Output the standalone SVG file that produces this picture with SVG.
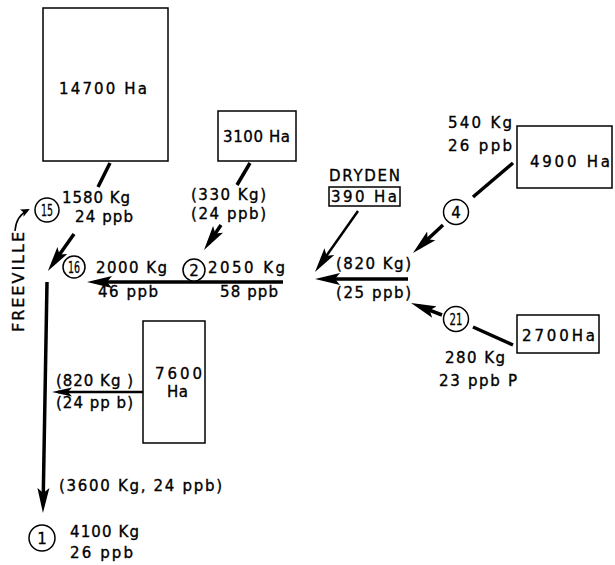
<svg xmlns="http://www.w3.org/2000/svg" width="615" height="565" viewBox="0 0 615 565">
<style>
.t{font-family:"DejaVu Sans","Liberation Sans",Arial,sans-serif;font-size:15px;fill:#000;stroke:#000;stroke-width:0.35}
.c{font-family:"DejaVu Sans","Liberation Sans",Arial,sans-serif;font-size:15px;fill:#000;stroke:#000;stroke-width:0.3;text-anchor:middle}
.box{fill:#fff;stroke:#000;stroke-width:1.5}
.circ{fill:#fff;stroke:#000;stroke-width:1.5}
.thick{fill:none;stroke:#000;stroke-width:3.5}
.thin{fill:none;stroke:#000;stroke-width:2.5}
.hair{fill:none;stroke:#000;stroke-width:1.5}
</style>
<defs>
<marker id="ah" viewBox="0 0 25 13" refX="17" refY="6.5" markerWidth="25" markerHeight="13" markerUnits="userSpaceOnUse" orient="auto">
<path d="M0,0.5 L25,6.5 L0,12.5 L5,6.5 Z" fill="#000"/>
</marker>
<marker id="ahs" viewBox="0 0 20 10" refX="14" refY="5" markerWidth="20" markerHeight="10" markerUnits="userSpaceOnUse" orient="auto">
<path d="M0,0.5 L20,5 L0,9.5 L4,5 Z" fill="#000"/>
</marker>
<marker id="aht" viewBox="0 0 9 8" refX="7" refY="4" markerWidth="9" markerHeight="8" markerUnits="userSpaceOnUse" orient="auto">
<path d="M0,0 L9,4 L0,8 L2,4 Z" fill="#000"/>
</marker>
</defs>

<g id="connectors">
<line class="thick" x1="110" y1="163" x2="98" y2="187"/>
<line class="thick" x1="74" y1="234" x2="52.5" y2="264.4" marker-end="url(#ah)"/>
<line class="thick" x1="250" y1="163" x2="237" y2="185"/>
<line class="thick" x1="221" y1="225" x2="208.5" y2="243.4" marker-end="url(#ah)"/>
<line class="thick" x1="283" y1="282" x2="95" y2="282" marker-end="url(#ah)"/>
<line class="thick" x1="47" y1="282" x2="43.1" y2="505" marker-end="url(#ah)"/>
<line class="thin" x1="143" y1="392" x2="58" y2="392" marker-end="url(#ahs)"/>
<line class="thick" x1="513" y1="163" x2="473" y2="197"/>
<line class="thick" x1="443" y1="225" x2="418.8" y2="247.5" marker-end="url(#ah)"/>
<line class="thin" x1="358" y1="211" x2="319.6" y2="265.5" marker-end="url(#ah)"/>
<line class="thick" x1="408" y1="279" x2="323" y2="279" marker-end="url(#ah)"/>
<line class="thick" x1="442" y1="315" x2="418.5" y2="305.9" marker-end="url(#ah)"/>
<line class="thick" x1="513" y1="345" x2="473" y2="327"/>
<path class="hair" d="M15,231 Q16,216 28,210" marker-end="url(#aht)"/>
</g>

<g id="area14700">
<rect class="box" x="43" y="8" width="125" height="153"/>
<text class="t" x="59" y="94" textLength="88" lengthAdjust="spacing">14700 Ha</text>
</g>
<g id="area3100">
<rect class="box" x="218" y="111" width="78" height="50"/>
<text class="t" x="223" y="142" textLength="67" lengthAdjust="spacing">3100 Ha</text>
</g>
<g id="area7600">
<rect class="box" x="143" y="321" width="62" height="122"/>
<text class="t" x="155" y="379" textLength="47" lengthAdjust="spacing">7600</text>
<text class="t" x="167" y="397" textLength="21" lengthAdjust="spacing">Ha</text>
</g>
<g id="area4900">
<rect class="box" x="517" y="126" width="95" height="62"/>
<text class="t" x="530" y="167" textLength="80" lengthAdjust="spacing">4900 Ha</text>
</g>
<g id="dryden">
<text class="t" x="329" y="181" textLength="71" lengthAdjust="spacing">DRYDEN</text>
<rect class="box" x="329" y="187" width="71" height="19"/>
<text class="t" x="331" y="202" textLength="66" lengthAdjust="spacing">390 Ha</text>
</g>
<g id="area2700">
<rect class="box" x="517" y="315" width="82" height="38"/>
<text class="t" x="522" y="341" textLength="73" lengthAdjust="spacing">2700Ha</text>
</g>

<g id="station15">
<circle class="circ" cx="47" cy="210" r="12"/>
<text class="c" x="47" y="215.5" textLength="12" lengthAdjust="spacingAndGlyphs">15</text>
<text class="t" x="62" y="203" textLength="68" lengthAdjust="spacing">1580 Kg</text>
<text class="t" x="75" y="222" textLength="58" lengthAdjust="spacing">24 ppb</text>
</g>
<g id="freeville">
<text class="t" transform="translate(24,332) rotate(-90)" x="0" y="0" style="font-size:16px" textLength="100" lengthAdjust="spacing">FREEVILLE</text>
</g>
<g id="label3100">
<text class="t" x="191" y="200" textLength="75" lengthAdjust="spacing">(330 Kg)</text>
<text class="t" x="191" y="219" textLength="75" lengthAdjust="spacing">(24 ppb)</text>
</g>
<g id="station16">
<circle class="circ" cx="74" cy="267" r="11"/>
<text class="c" x="74" y="272.5" textLength="12" lengthAdjust="spacingAndGlyphs">16</text>
<text class="t" x="96" y="273" textLength="71" lengthAdjust="spacing">2000 Kg</text>
<text class="t" x="98" y="297" textLength="60" lengthAdjust="spacing">46 ppb</text>
</g>
<g id="station2">
<circle class="circ" cx="194" cy="270" r="11"/>
<text class="c" x="194" y="275.5">2</text>
<text class="t" x="208" y="273" textLength="77" lengthAdjust="spacing">2050 Kg</text>
<text class="t" x="220" y="297" textLength="58" lengthAdjust="spacing">58 ppb</text>
</g>
<g id="label7600">
<text class="t" x="56" y="386" textLength="77" lengthAdjust="spacing">(820 Kg )</text>
<text class="t" x="56" y="408" textLength="77" lengthAdjust="spacing">(24 pp b)</text>
</g>
<g id="labelMain">
<text class="t" x="59" y="491" textLength="163" lengthAdjust="spacing">(3600 Kg, 24 ppb)</text>
</g>
<g id="station1">
<circle class="circ" cx="42" cy="538" r="13"/>
<text class="c" x="42" y="543.5">1</text>
<text class="t" x="70" y="537" textLength="69" lengthAdjust="spacing">4100 Kg</text>
<text class="t" x="70" y="558" textLength="63" lengthAdjust="spacing">26 ppb</text>
</g>
<g id="station4">
<text class="t" x="448" y="128" textLength="64" lengthAdjust="spacing">540 Kg</text>
<text class="t" x="448" y="151" textLength="64" lengthAdjust="spacing">26 ppb</text>
<circle class="circ" cx="456" cy="212" r="12.5"/>
<text class="c" x="456" y="217.5">4</text>
</g>
<g id="labelDryden">
<text class="t" x="336" y="269" textLength="75" lengthAdjust="spacing">(820 Kg)</text>
<text class="t" x="336" y="298" textLength="75" lengthAdjust="spacing">(25 ppb)</text>
</g>
<g id="station21">
<circle class="circ" cx="456" cy="319" r="12.5"/>
<text class="c" x="456" y="324.5" textLength="13" lengthAdjust="spacingAndGlyphs">21</text>
<text class="t" x="445" y="363" textLength="60" lengthAdjust="spacing">280 Kg</text>
<text class="t" x="439" y="386" textLength="78" lengthAdjust="spacing">23 ppb P</text>
</g>
</svg>
